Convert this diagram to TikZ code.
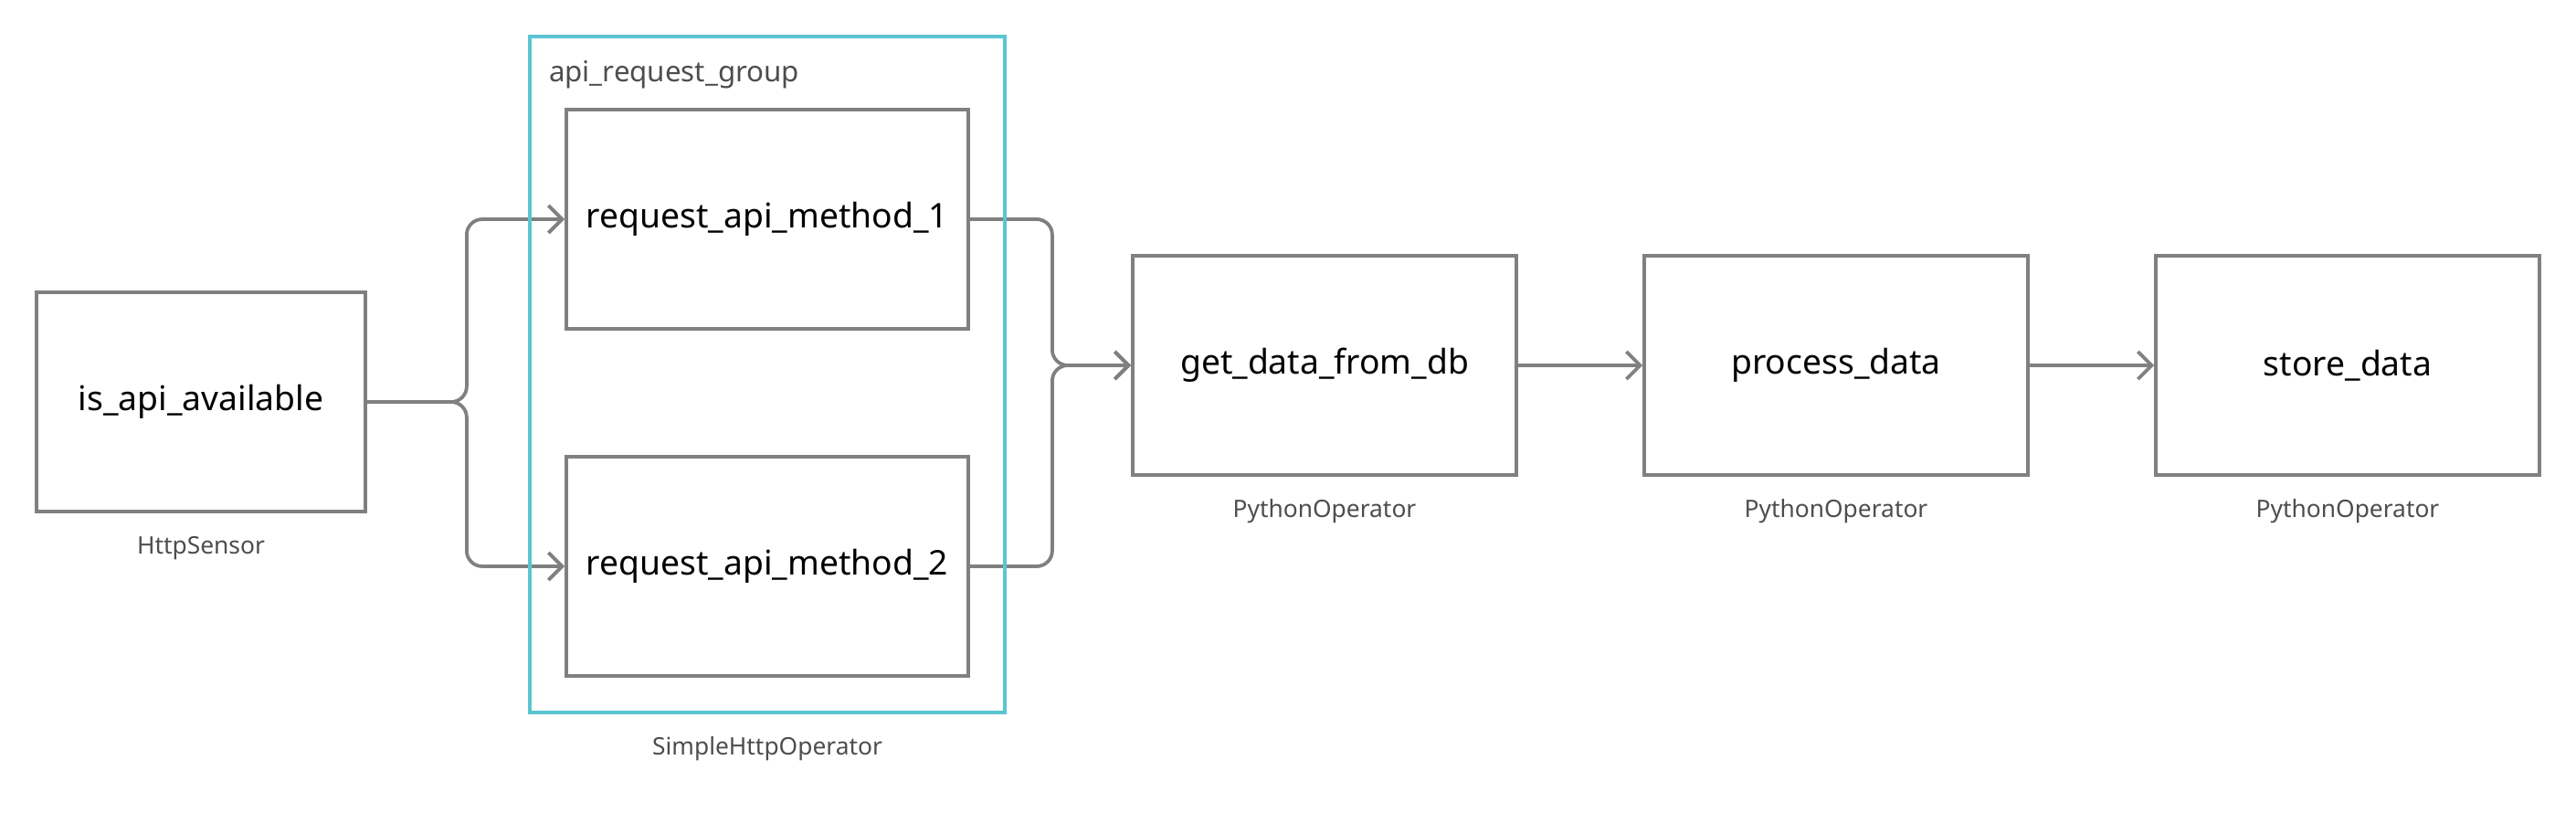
\documentclass[tikz,border=0pt]{standalone}
\usepackage{fontspec}
\setmainfont{Noto Sans}
\usepackage{tikz}
\usetikzlibrary{arrows.meta}
\definecolor{taskgray}{HTML}{808080}
\definecolor{groupcyan}{HTML}{5BC5D2}
\definecolor{labelgray}{HTML}{4D4D4D}
\tikzset{
    task/.style = {
        draw = taskgray,
        line width = 0.038cm,
        minimum height = 2.4cm,
        inner sep = 0,
        font = \fontsize{10.6}{12}\selectfont
    },
    operator/.style = {
        text = labelgray,
        inner sep = 0,
        font = \fontsize{7.5}{9}\selectfont
    },
    flow/.style = {
        draw = taskgray,
        line width = 0.038cm,
        rounded corners = 0.17cm,
        -{Straight Barb[length = 0.15cm, width = 0.3cm]}
    }
}

\begin{document}
\begin{tikzpicture}
        \useasboundingbox (0, 0) rectangle (28.2, 9);
        \node [task, minimum width = 3.6cm] (isapi) at (2.2, 4.6) {is\_api\_available};
        \node [task, minimum width = 4.4cm] (method1) at (8.4, 6.6) {request\_api\_method\_1};
        \node [task, minimum width = 4.4cm] (method2) at (8.4, 2.8) {request\_api\_method\_2};
        \node [task, minimum width = 4.2cm] (getdata) at (14.5, 5) {get\_data\_from\_db};
        \node [task, minimum width = 4.2cm] (process) at (20.1, 5) {process\_data};
        \node [task, minimum width = 4.2cm] (store) at (25.7, 5) {store\_data};
        \draw [flow] (isapi.east) -- ++(1.09, 0) |- (method1.west);
        \draw [flow] (isapi.east) -- ++(1.09, 0) |- (method2.west);
        \draw [flow] (method1.east) -- ++(0.9, 0) |- (getdata.west);
        \draw [flow] (method2.east) -- ++(0.9, 0) |- (getdata.west);
        \draw [flow] (getdata) -- (process);
        \draw [flow] (process) -- (store);
        \node [draw = groupcyan, line width = 0.034cm, minimum width = 5.2cm, minimum height = 7.4cm, inner sep = 0] (apigroup) at (8.4, 4.9) {};
        \node [anchor = west, inner sep = 0, text = labelgray, font = \fontsize{8.9}{10}\selectfont] (grouplabel) at ([shift = {(0.22, -0.43)}] apigroup.north west) {api\_request\_group};
        \node [operator] (isapiop) at (2.2, 3) {HttpSensor};
        \node [operator] (groupop) at (8.4, 0.8) {SimpleHttpOperator};
        \node [operator] (getdataop) at (14.5, 3.4) {PythonOperator};
        \node [operator] (processop) at (20.1, 3.4) {PythonOperator};
        \node [operator] (storeop) at (25.7, 3.4) {PythonOperator};
    \end{tikzpicture}
\end{document}
